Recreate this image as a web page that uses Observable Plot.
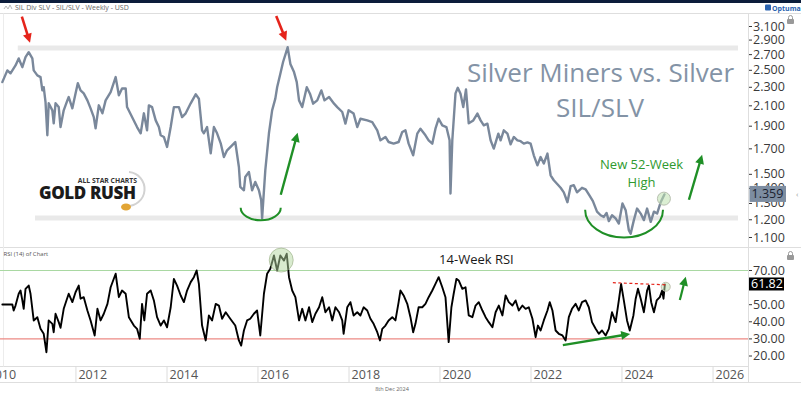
<!DOCTYPE html>
<html><head><meta charset="utf-8">
<script src="https://cdn.jsdelivr.net/npm/d3@7"></script>
<script src="https://cdn.jsdelivr.net/npm/@observablehq/plot@0.6"></script>
<style>
html,body{margin:0;padding:0;background:#fff;}
#wrap{position:relative;width:801px;height:397px;overflow:hidden;font-family:"Open Sans",sans-serif;}
#frame{position:absolute;left:0;top:0;z-index:0;}
#price{position:absolute;left:0;top:14px;z-index:1;}
#rsi{position:absolute;left:0;top:247px;z-index:1;}
</style></head>
<body><div id="wrap"><svg id="frame" width="801" height="397"></svg><div id="price"></div><div id="rsi"></div></div>
<script>
// ---------- DATA ----------
const priceYears = [2010.37,2010.48,2010.55,2010.66,2010.73,2010.81,2010.88,2010.95,2011.03,2011.06,
2011.14,2011.21,2011.25,2011.28,2011.32,2011.36,2011.39,2011.47,2011.50,2011.54,
2011.61,2011.65,2011.72,2011.80,2011.83,2011.91,2011.98,2012.03,2012.09,2012.16,
2012.24,2012.31,2012.38,2012.42,2012.49,2012.57,2012.64,2012.75,2012.86,2012.93,
2013.00,2013.08,2013.11,2013.22,2013.33,2013.41,2013.48,2013.55,2013.59,2013.66,
2013.74,2013.81,2013.85,2013.92,2013.99,2014.07,2014.14,2014.25,2014.32,2014.40,
2014.51,2014.62,2014.69,2014.76,2014.80,2014.87,2014.95,2015.02,2015.09,2015.17,
2015.24,2015.31,2015.42,2015.49,2015.57,2015.60,2015.68,2015.71,2015.79,2015.86,
2015.93,2016.01,2016.06,2016.08,2016.15,2016.23,2016.30,2016.37,2016.41,2016.48,
2016.54,2016.62,2016.64,2016.70,2016.78,2016.84,2016.89,2016.96,2017.06,2017.13,
2017.20,2017.29,2017.38,2017.45,2017.55,2017.66,2017.73,2017.84,2017.91,2017.98,
2018.09,2018.17,2018.24,2018.39,2018.50,2018.61,2018.68,2018.79,2018.86,2018.97,
2019.08,2019.16,2019.23,2019.30,2019.40,2019.49,2019.56,2019.67,2019.74,2019.82,
2019.89,2019.96,2020.04,2020.13,2020.20,2020.22,2020.26,2020.33,2020.38,2020.44,
2020.50,2020.56,2020.62,2020.72,2020.81,2020.88,2020.95,2021.03,2021.10,2021.17,
2021.27,2021.32,2021.39,2021.47,2021.54,2021.61,2021.69,2021.76,2021.83,2021.91,
2021.98,2022.05,2022.13,2022.20,2022.27,2022.35,2022.42,2022.49,2022.57,2022.64,
2022.71,2022.79,2022.86,2022.93,2023.00,2023.11,2023.19,2023.27,2023.35,2023.44,
2023.52,2023.59,2023.65,2023.70,2023.77,2023.85,2023.92,2024.00,2024.07,2024.14,
2024.18,2024.25,2024.32,2024.40,2024.47,2024.54,2024.62,2024.69,2024.76,2024.84,2024.92];
const priceValues = [2.359,2.499,2.463,2.560,2.650,2.539,2.667,2.733,2.650,2.499,
2.438,2.418,2.265,2.301,2.139,1.817,2.126,2.054,1.927,2.126,
2.087,1.892,2.054,2.157,2.192,2.074,2.232,2.347,2.265,2.232,
2.157,2.074,1.987,1.880,2.105,2.024,2.157,2.247,2.418,2.211,
2.287,2.287,2.087,1.987,1.892,1.835,2.024,1.862,2.105,2.087,
1.955,1.892,1.817,1.802,1.716,1.892,2.087,2.087,1.987,2.024,
2.126,2.222,2.175,1.862,1.835,1.892,1.663,1.892,1.835,1.747,
1.633,1.688,1.730,1.758,1.555,1.410,1.387,1.481,1.518,1.387,
1.445,1.387,1.321,1.208,1.530,1.835,2.054,2.175,2.301,2.458,
2.604,2.756,2.800,2.580,2.478,2.359,2.157,2.087,2.301,2.229,
2.122,2.157,2.265,2.157,2.192,2.122,2.087,2.037,1.924,2.054,
2.021,1.892,1.971,1.955,1.939,1.862,1.773,1.802,1.758,1.744,
1.758,1.847,1.862,1.744,1.647,1.832,1.877,1.817,1.773,1.744,
1.877,1.971,1.908,1.892,1.773,1.365,1.773,2.232,2.294,2.229,
2.087,2.276,1.927,1.955,2.021,1.955,1.908,1.924,1.773,1.702,
1.832,1.773,1.862,1.832,1.738,1.802,1.773,1.765,1.744,1.755,
1.744,1.647,1.568,1.633,1.582,1.661,1.493,1.457,1.429,1.404,
1.373,1.308,1.415,1.422,1.373,1.404,1.394,1.354,1.315,1.249,
1.227,1.217,1.241,1.192,1.227,1.208,1.178,1.300,1.258,1.140,
1.121,1.198,1.268,1.237,1.198,1.268,1.188,1.249,1.237,1.310,1.359];

const rsiYears = [2010.37,2010.59,2010.62,2010.66,2010.73,2010.77,2010.81,2010.84,2010.88,2010.95,
2010.99,2011.06,2011.14,2011.21,2011.28,2011.34,2011.39,2011.47,2011.50,2011.54,
2011.61,2011.65,2011.72,2011.78,2011.83,2011.91,2011.98,2012.05,2012.09,2012.16,
2012.24,2012.31,2012.40,2012.46,2012.53,2012.60,2012.68,2012.75,2012.86,2012.93,
2013.00,2013.08,2013.15,2013.26,2013.33,2013.39,2013.44,2013.49,2013.55,2013.63,
2013.70,2013.77,2013.85,2013.92,2013.99,2014.07,2014.14,2014.21,2014.29,2014.36,
2014.43,2014.51,2014.58,2014.64,2014.69,2014.76,2014.84,2014.91,2014.98,2015.06,
2015.13,2015.20,2015.28,2015.38,2015.49,2015.57,2015.62,2015.68,2015.75,2015.82,
2015.90,2015.97,2016.04,2016.12,2016.19,2016.26,2016.34,2016.41,2016.48,2016.56,
2016.62,2016.67,2016.74,2016.81,2016.89,2016.96,2017.03,2017.11,2017.18,2017.25,
2017.33,2017.40,2017.47,2017.55,2017.62,2017.69,2017.77,2017.84,2017.87,2017.95,
2018.02,2018.09,2018.17,2018.24,2018.31,2018.39,2018.46,2018.53,2018.61,2018.67,
2018.72,2018.79,2018.86,2018.94,2019.01,2019.08,2019.12,2019.19,2019.27,2019.34,
2019.40,2019.45,2019.52,2019.60,2019.67,2019.74,2019.82,2019.89,2019.96,2020.04,
2020.11,2020.18,2020.24,2020.29,2020.35,2020.40,2020.48,2020.55,2020.62,2020.70,
2020.77,2020.84,2020.92,2020.99,2021.06,2021.14,2021.21,2021.28,2021.36,2021.43,
2021.50,2021.58,2021.65,2021.72,2021.80,2021.87,2021.94,2022.02,2022.09,2022.14,
2022.20,2022.27,2022.35,2022.40,2022.46,2022.53,2022.60,2022.68,2022.75,2022.82,
2022.89,2022.97,2023.04,2023.11,2023.19,2023.26,2023.33,2023.41,2023.48,2023.55,
2023.63,2023.70,2023.77,2023.85,2023.92,2023.97,2024.03,2024.10,2024.16,2024.24,
2024.29,2024.34,2024.40,2024.47,2024.54,2024.58,2024.63,2024.69,2024.75,2024.82,2024.87,2024.90,2024.93];
const rsiValues = [50.1,50.1,46.6,49.5,56.4,58.3,52.5,47.6,59.3,61.2,
56.4,40.8,42.7,35.9,33.0,22.2,40.8,38.8,33.9,44.7,
39.8,36.5,47.6,52.5,56.4,51.5,57.3,61.2,53.5,54.4,
46.6,40.8,32.0,47.6,40.8,44.7,50.5,60.2,68.1,54.4,
58.3,56.4,42.7,37.8,35.9,30.1,50.5,40.8,56.4,58.3,
52.5,42.7,37.8,40.8,36.8,48.5,65.1,61.2,55.4,51.5,
58.3,63.2,66.1,70.0,62.2,37.8,29.1,43.7,40.8,50.5,
49.5,41.8,45.6,41.8,37.8,29.1,26.1,34.9,40.8,41.8,
44.7,46.6,32.0,56.4,68.1,71.0,78.8,70.0,78.8,75.8,
79.8,66.1,58.3,54.4,40.8,47.6,40.8,48.5,39.8,44.7,
48.5,54.4,45.6,48.5,40.8,48.5,45.6,40.8,33.0,48.5,
51.5,43.7,45.6,43.7,48.5,46.6,41.8,38.8,33.9,29.1,
35.9,37.8,40.8,42.7,40.8,51.5,58.3,55.4,50.5,42.7,
33.9,38.8,48.5,48.5,50.5,54.4,58.3,62.2,66.1,60.2,
54.4,28.1,48.5,56.4,65.1,64.2,59.3,60.2,43.7,42.7,
49.5,51.5,46.6,42.7,39.8,36.8,45.6,49.5,43.7,55.4,
51.5,49.5,52.5,46.6,49.5,47.6,48.5,41.8,31.0,37.8,
34.9,40.8,46.6,51.5,46.6,34.9,33.0,32.0,29.1,42.7,
47.6,50.5,46.6,51.5,52.5,48.5,39.8,35.9,33.0,34.9,
32.0,35.9,45.6,39.8,52.5,62.2,52.5,40.8,34.9,43.7,
53.5,59.3,53.5,45.6,58.3,61.2,51.5,45.6,52.5,54.4,58.3,53.5,61.82];

const priceTicks = [3.1,2.9,2.7,2.5,2.3,2.1,1.9,1.7,1.5,1.4,1.3,1.2,1.1];
const rsiTicks = [70,60,50,40,30,20];
const xTickYears = [2010,2012,2014,2016,2018,2020,2022,2024,2026];
const rsiLevels = [70,30];
const supportResistance = [2.79,1.21];
const titleLines = ["Silver Miners vs. Silver","SIL/SLV"];
const headerText = "SIL Div SLV - SIL/SLV - Weekly - USD";
const dateText = "8th Dec 2024";

// ---------- HELPERS ----------
function toDate(y){const yr=Math.floor(y);const a=Date.UTC(yr,0,1),b=Date.UTC(yr+1,0,1);return new Date(a+(y-yr)*(b-a));}
const priceData = priceYears.map((t,i)=>({date:toDate(t),v:priceValues[i]}));
const rsiData = rsiYears.map((t,i)=>({date:toDate(t),v:rsiValues[i]}));
const xDomain=[toDate(2010.3297),toDate(2026.769)];
const GREEN="#1f8f26", RED="#e5241b", SLATE="#7a889b";
const lastPrice=priceValues[priceValues.length-1], lastRsi=rsiValues[rsiValues.length-1];

function arrow(g,x1,y1,x2,y2,color,w){
  const dx=x2-x1,dy=y2-y1,L=Math.hypot(dx,dy),ux=dx/L,uy=dy/L,hl=9,hw=4.5;
  const bx=x2-ux*hl,by=y2-uy*hl;
  g.append("line").attr("x1",x1).attr("y1",y1).attr("x2",bx+ux).attr("y2",by+uy).attr("stroke",color).attr("stroke-width",w);
  g.append("path").attr("d",`M${x2},${y2}L${bx-uy*hw},${by+ux*hw}L${bx+uy*hw},${by-ux*hw}Z`).attr("fill",color);
}
function smile(g,x1,x2,yTop,yBot,color){
  const rx=(x2-x1)/2, ry=yBot-yTop;
  g.append("path").attr("d",`M${x1},${yTop}A${rx},${ry} 0 0 0 ${x2},${yTop}`).attr("fill","none").attr("stroke",color).attr("stroke-width",2);
}
function valueBox(g,x,y,w,h,fill,textFill,label){
  g.append("rect").attr("x",x).attr("y",y-h/2).attr("width",w).attr("height",h).attr("fill",fill);
  g.append("text").attr("x",x+2).attr("y",y).attr("dy","0.36em").attr("text-anchor","start").attr("fill",textFill).attr("font-size",12.5).text(label);
}

// ---------- PRICE PANEL ----------
function priceAnno(index,scales,values,dims){
  const X=t=>scales.x(toDate(t)), Y=v=>scales.y(v);
  const g=d3.create("svg:g").attr("font-family","Open Sans").attr("text-anchor","start");
  g.append("text").attr("x",600.5).attr("y",68).attr("text-anchor","middle").attr("font-size",26).attr("fill","#8393a6").text(titleLines[0]);
  g.append("text").attr("x",600).attr("y",103).attr("text-anchor","middle").attr("font-size",26).attr("fill","#8393a6").text(titleLines[1]);
  // logo
  g.append("path").attr("d","M129,158 A17,17 0 1 1 126,192").attr("fill","none").attr("stroke","#d2d2d2").attr("stroke-width",2);
  g.append("text").attr("x",137).attr("y",168.5).attr("text-anchor","end").attr("font-size",6.8).attr("font-weight",700).attr("fill","#333").text("ALL STAR CHARTS");
  g.append("text").attr("x",39).attr("y",185).attr("font-size",17).attr("font-weight",800).attr("fill","#1b1b1b").attr("letter-spacing",-0.4).text("GOLD RUSH");
  g.append("ellipse").attr("cx",126).attr("cy",193).attr("rx",5).attr("ry",3.5).attr("fill","#e2a535");
  // arrows & arcs
  arrow(g,X(2010.81),Y(3.245),X(2010.99),Y(2.856),RED,2.6);
  arrow(g,X(2016.40),Y(3.256),X(2016.62),Y(2.885),RED,2.6);
  smile(g,X(2015.62),X(2016.50),Y(1.270),Y(1.194),GREEN);
  arrow(g,X(2016.50),Y(1.354),X(2016.87),Y(1.835),GREEN,2.4);
  smile(g,X(2023.19),X(2024.90),Y(1.258),Y(1.097),GREEN);
  arrow(g,X(2025.47),Y(1.321),X(2025.76),Y(1.647),GREEN,2.4);
  g.append("text").attr("x",X(2024.43)).attr("y",Y(1.568)).attr("dy","0.36em").attr("text-anchor","middle").attr("font-size",13).attr("fill","#2f9a2f").text("New 52-Week");
  g.append("text").attr("x",X(2024.43)).attr("y",Y(1.436)).attr("dy","0.36em").attr("text-anchor","middle").attr("font-size",13).attr("fill","#2f9a2f").text("High");
  g.append("circle").attr("cx",X(2024.92)).attr("cy",Y(1.328)).attr("r",6.5).attr("fill","rgba(190,225,175,0.55)").attr("stroke","#b8c0b0").attr("stroke-width",1);
  valueBox(g,dims.width-dims.marginRight+1.5,Y(lastPrice),36.5,16,"#7d8da1","#1c2330",d3.format(".3f")(lastPrice));
  g.append("text").attr("x",796).attr("y",Y(lastPrice)).attr("dy","0.36em").attr("font-size",8).attr("fill","#999").text("‹");
  return g.node();
}

const pricePlot = Plot.plot({
  width:801,height:234,marginLeft:0,marginRight:53,marginTop:12,marginBottom:11,
  style:{background:"transparent",overflow:"visible",fontFamily:"Open Sans",fontSize:"12px"},
  x:{type:"utc",domain:xDomain,axis:null},
  y:{type:"log",domain:[1.1,3.1],axis:null,label:null},
  marks:[
    Plot.ruleY([supportResistance[0]],{x1:toDate(2010.72),x2:toDate(2026.55),stroke:"#e9e9e9",strokeWidth:5}),
    Plot.ruleY([supportResistance[1]],{x1:toDate(2011.10),x2:toDate(2026.55),stroke:"#e9e9e9",strokeWidth:5}),
    Plot.line(priceData,{x:"date",y:"v",stroke:SLATE,strokeWidth:2.4,strokeLinejoin:"round"}),
    Plot.axisY(priceTicks,{anchor:"right",tickSize:3,tickPadding:1.5,tickFormat:d3.format(".3f"),fontSize:12.5,color:"#3a3a3a",label:null}),
    priceAnno
  ]
});
document.getElementById("price").appendChild(pricePlot);

// ---------- RSI PANEL ----------
function rsiAnno(index,scales,values,dims){
  const X=t=>scales.x(toDate(t)), Y=v=>scales.y(v);
  const g=d3.create("svg:g").attr("font-family","Open Sans").attr("text-anchor","start");
  g.append("text").attr("x",3.5).attr("y",7).attr("dy","0.36em").attr("font-size",6).attr("fill","#555").text("RSI (14) of Chart");
  g.append("text").attr("x",X(2020.80)).attr("y",Y(76.4)).attr("dy","0.36em").attr("text-anchor","middle").attr("font-size",13).attr("fill","#1a1a1a").text("14-Week RSI");
  g.append("circle").attr("cx",X(2016.51)).attr("cy",Y(75.8)).attr("r",12).attr("fill","rgba(180,215,160,0.5)").attr("stroke","rgba(150,170,130,0.6)");
  g.append("circle").attr("cx",X(2024.96)).attr("cy",Y(60.2)).attr("r",4.5).attr("fill","rgba(190,225,175,0.5)").attr("stroke","#c0c0b0");
  g.append("line").attr("x1",X(2023.80)).attr("y1",Y(62.6)).attr("x2",X(2024.98)).attr("y2",Y(61.3)).attr("stroke",RED).attr("stroke-width",1.2).attr("stroke-dasharray","3,2.5");
  arrow(g,X(2025.27),Y(52.5),X(2025.40),Y(66.1),GREEN,2.2);
  arrow(g,X(2022.70),Y(26.1),X(2024.18),Y(32.6),GREEN,2.4);
  const y0=dims.height-dims.marginBottom+10.5;
  for(const yr of xTickYears){
    const x=X(yr);
    g.append("line").attr("x1",x).attr("x2",x).attr("y1",y0).attr("y2",y0+16).attr("stroke","#dcdcdc");
    g.append("text").attr("x",x+2.5).attr("y",y0+13).attr("font-size",12.5).attr("fill","#555").text(String(yr));
  }
  g.append("text").attr("x",392).attr("y",y0+25).attr("text-anchor","middle").attr("font-size",5.5).attr("fill","#666").text(dateText);
  valueBox(g,dims.width-dims.marginRight+1,Y(lastRsi),35,13,"#000","#fff",d3.format(".2f")(lastRsi));
  return g.node();
}
// the 60.00 label lies fully under the last-value box, as in the reference
const rsiFmt = v => Math.abs(v-lastRsi)<4 ? "" : d3.format(".2f")(v);
const rsiPlot = Plot.plot({
  width:801,height:150,marginLeft:0,marginRight:53,marginTop:23,marginBottom:41.5,
  style:{background:"transparent",overflow:"visible",fontFamily:"Open Sans",fontSize:"12px"},
  x:{type:"utc",domain:xDomain,axis:null},
  y:{domain:[20,70],axis:null,label:null},
  marks:[
    Plot.ruleY([rsiLevels[0]],{x1:xDomain[0],x2:xDomain[1],stroke:"#a9d8a2",strokeWidth:1.2}),
    Plot.ruleY([rsiLevels[1]],{x1:xDomain[0],x2:xDomain[1],stroke:"#ec8a84",strokeWidth:1.2}),
    Plot.line(rsiData,{x:"date",y:"v",stroke:"#000",strokeWidth:1.9,strokeLinejoin:"round"}),
    Plot.axisY(rsiTicks,{anchor:"right",tickSize:3,tickPadding:1.5,tickFormat:rsiFmt,fontSize:12.5,color:"#3a3a3a",label:null}),
    rsiAnno
  ]
});
document.getElementById("rsi").appendChild(rsiPlot);

// ---------- FRAME ----------
const f=d3.select("#frame");
f.append("rect").attr("x",0).attr("y",0).attr("width",801).attr("height",3).attr("fill","#0c1d3b");
const L=(x1,y1,x2,y2,c)=>f.append("line").attr("x1",x1).attr("y1",y1).attr("x2",x2).attr("y2",y2).attr("stroke",c||"#dedede");
L(0,13.5,801,13.5); L(0,247.5,801,247.5); L(0,366.5,748,366.5); L(0,382.5,801,382.5);
L(748.5,13.5,748.5,382.5); L(3.5,13.5,3.5,366.5,"#ececec");
f.append("text").attr("x",15).attr("y",9.5).attr("font-family","Open Sans").attr("font-size",7).attr("fill","#666").text(headerText);
f.append("path").attr("d","M4,9 l2,-3 l2,3 l2,-4 l2,4").attr("fill","none").attr("stroke","#aaa").attr("stroke-width",0.8);
f.append("rect").attr("x",765).attr("y",4.5).attr("width",6).attr("height",6).attr("rx",1).attr("fill","#2a63b0");
f.append("text").attr("x",772).attr("y",10.5).attr("font-family","Open Sans").attr("font-size",7).attr("font-weight",700).attr("fill","#2a63b0").text("Optuma");
for(const ly of [16,252]){
  f.append("rect").attr("x",787).attr("y",ly+3).attr("width",7).attr("height",5).attr("rx",1).attr("fill","#999");
  f.append("path").attr("d",`M788.5,${ly+3} v-1.5 a2,2 0 0 1 4,0 v1.5`).attr("fill","none").attr("stroke","#999").attr("stroke-width",1);
}
</script></body></html>
